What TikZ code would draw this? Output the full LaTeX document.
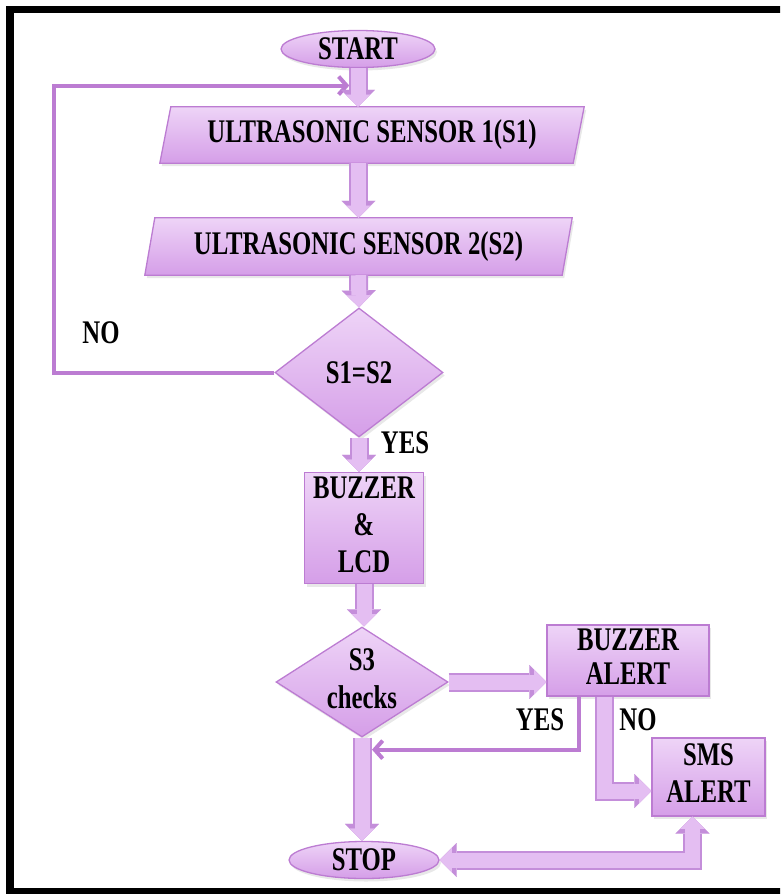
\documentclass[tikz,border=0pt]{standalone}
\usepackage{fontspec}
\setmainfont{Liberation Serif}
\usetikzlibrary{shapes.geometric,arrows.meta,calc,backgrounds,shadows}
\definecolor{ptop}{RGB}{238,212,247}
\definecolor{pbot}{RGB}{213,158,232}
\definecolor{pline}{RGB}{188,124,210}
\definecolor{aouter}{RGB}{196,142,218}
\definecolor{ainner}{RGB}{228,190,242}
\newcommand\cz[1]{\scalebox{0.75}[1]{#1}}
\begin{document}
\begin{tikzpicture}[x=1pt,y=-1pt,
  every node/.style={font=\fontsize{33}{37}\selectfont\bfseries, inner sep=0pt, text=black},
  shp/.style={draw=pline, line width=1.3pt, top color=ptop, bottom color=pbot,
    drop shadow={opacity=0.18, shadow xshift=2pt, shadow yshift=-3pt}},
  term/.style={shp, ellipse, minimum width=#1, minimum height=37pt},
  boxn/.style={shp, rectangle, align=center},
  decn/.style={shp, diamond},
  para/.style={rectangle},
  lbl/.style={},
  bo/.style={draw=aouter, line width=19pt, >={Triangle[width=34pt,length=17pt,line width=0.1pt]}},
  bi/.style={draw=ainner, line width=15pt, >={Triangle[width=24.3pt,length=12.2pt,line width=0.1pt]}},
  thinarrow/.style={draw=pline, line width=4pt, -{Straight Barb[length=8pt,width=18pt]}},
]
\useasboundingbox (0,0) rectangle (780,894);
\clip (0,0) rectangle (780,894);
% frame
\draw[line width=7.5pt, line join=miter] (790,9.5) -- (10,9.5) -- (10,891.5) -- (790,891.5);

% nodes
\node[term=154pt] (start) at (358,49) {\cz{START}};
\node[para, minimum width=413pt, minimum height=56pt] (s1) at (372,135) {\cz{ULTRASONIC SENSOR 1(S1)}};
\node[para, minimum width=417pt, minimum height=57pt] (s2) at (358.5,246.5) {\cz{ULTRASONIC SENSOR 2(S2)}};
\begin{scope}[on background layer]
\path[shp] ($(s1.north west)+(5.5,0)$) -- ($(s1.north east)+(5.5,0)$) -- ($(s1.south east)+(-5.5,0)$) -- ($(s1.south west)+(-5.5,0)$) -- cycle;
\path[shp] ($(s2.north west)+(5,0)$) -- ($(s2.north east)+(5,0)$) -- ($(s2.south east)+(-5,0)$) -- ($(s2.south west)+(-5,0)$) -- cycle;
\end{scope}
\node[decn, minimum width=168pt, minimum height=129pt, label={center:\cz{S1=S2}}] (d1) at (359,372.5) {};
\node[boxn, minimum width=119pt, minimum height=110pt] (b1) at (364,528) {\cz{\begin{tabular}{@{}c@{}}BUZZER\\ \&\\ LCD\end{tabular}}};
\node[decn, minimum width=172pt, minimum height=110pt, label={center:\cz{\begin{tabular}{@{}c@{}}S3\\[1pt] checks\end{tabular}}}] (d2) at (362,682) {};
\node[boxn, minimum width=162pt, minimum height=67pt] (ba) at (628,660.5) {\raisebox{-4pt}{\cz{\begin{tabular}{@{}c@{}}BUZZER\\[-3pt] ALERT\end{tabular}}}};
\node[boxn, minimum width=113pt, minimum height=78pt] (sms) at (708.5,777) {\cz{\begin{tabular}{@{}c@{}}SMS\\ ALERT\end{tabular}}};
\node[term=150pt] (stop) at (364,860) {\cz{STOP}};

% labels
\node[lbl] (lno1) at (101,333) {\cz{NO}};
\node[lbl] (lyes1) at (405,443) {\cz{YES}};
\node[lbl] (lyes2) at (540,720) {\cz{YES}};
\node[lbl] (lno2) at (638,720) {\cz{NO}};

% helper coordinates
\coordinate (loopin) at ($(start.south)!0.45!(s1.north)+(-15,0)$);
\coordinate (yesin) at ($(d2.south)+(10,12)$);
\coordinate (baA) at ($(ba.south west)+(33,0)$);
\coordinate (baB) at ($(ba.south west)+(58,0)$);
\coordinate (smsA) at ($(sms.south)+(-16,0)$);
\coordinate (smsW) at ($(sms.west)+(0,14)$);

% thin line arrows
\draw[thinarrow, line join=miter] (d1.west) -- ++(-220,0) |- (loopin);
\draw[thinarrow, line join=miter] (baA) |- (yesin);

% block arrows
\foreach \st in {bo,bi}{
  \draw[\st,->] (start.south) -- (start.south |- s1.north);
  \draw[\st,->] (s2.north |- s1.south) -- (s2.north);
  \draw[\st,->] (s2.south) -- (d1.north);
  \draw[\st,->] (d1.south) -- (d1.south |- b1.north);
  \draw[\st,->] (b1.south) -- (b1.south |- d2.north);
  \draw[\st,->] (d2.east) -- (d2.east -| ba.west);
  \draw[\st,->] (d2.south) -- (d2.south |- stop.north);
  \draw[\st,->, line join=miter] (baB) |- (smsW);
  \draw[\st,<->, line join=miter] (smsA) |- (stop.east);
}
\end{tikzpicture}
\end{document}
